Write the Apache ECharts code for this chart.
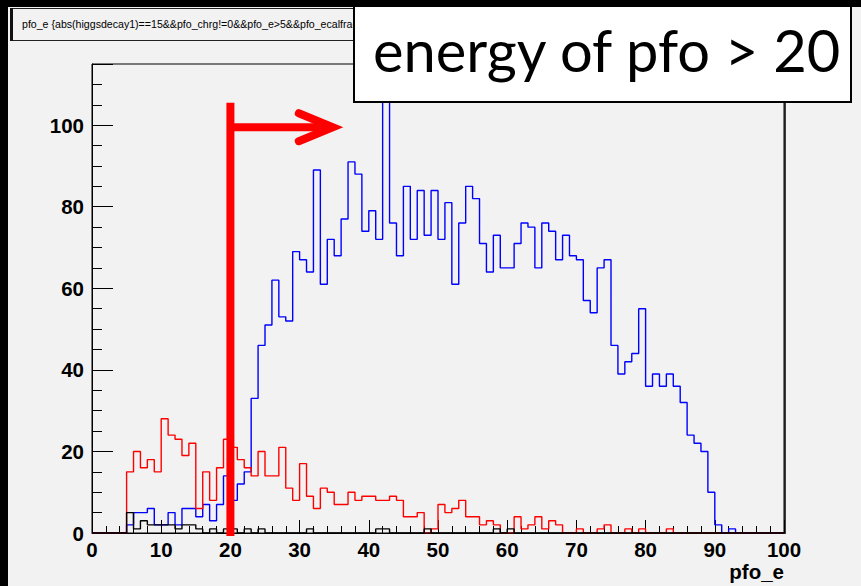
<!DOCTYPE html>
<html>
<head>
<meta charset="utf-8">
<script src="https://cdn.jsdelivr.net/npm/echarts@6/dist/echarts.min.js"></script>
<style>
  html, body { margin: 0; padding: 0; background: #000; }
  #chart { width: 861px; height: 586px; }
</style>
</head>
<body>
<div id="chart"></div>
<script>
// pfo_e histograms: 100 bins of width 1 from 0 to 100 (counts per bin, bin i = [i, i+1))
const binLowEdges = Array.from({ length: 100 }, (_, i) => i);

const blueCounts = [
  0, 0, 0, 0, 0, 2, 5, 5, 6, 2,
  2, 5, 2, 6, 6, 4, 7, 3, 7, 14,
  8, 12, 15, 33, 46, 51, 62, 53, 52, 69,
  67, 64, 89, 61, 72, 68, 77, 91, 88, 74,
  79, 72, 109, 76, 68, 85, 72, 84, 73, 84,
  72, 81, 61, 76, 85, 82, 71, 64, 73, 65,
  65, 71, 76, 75, 65, 76, 74, 67, 73, 68,
  67, 57, 54, 65, 67, 46, 39, 42, 44, 55,
  36, 39, 36, 39, 36, 32, 24, 22, 20, 10,
  2, 0, 1, 0, 0, 0, 0, 0, 0, 0
];

const redCounts = [
  0, 0, 0, 0, 0, 15, 20, 16, 18, 15,
  28, 24, 23, 19, 22, 6, 15, 8, 16, 23,
  21, 18, 16, 14, 20, 14, 14, 21, 11, 8,
  17, 9, 6, 11, 10, 7, 7, 10, 8, 9,
  9, 8, 8, 9, 8, 4, 4, 5, 0, 1,
  7, 5, 6, 8, 4, 4, 2, 3, 2, 0,
  0, 4, 1, 2, 4, 1, 3, 2, 0, 0,
  1, 0, 0, 1, 2, 0, 0, 1, 0, 1,
  0, 0, 0, 1, 0, 0, 0, 0, 0, 0,
  0, 0, 0, 0, 0, 0, 0, 0, 0, 0
];

const blackCounts = [
  0, 0, 0, 0, 0, 5, 1, 3, 2, 2,
  2, 2, 1, 2, 2, 1, 0, 1, 0, 1,
  1, 0, 1, 0, 1, 0, 0, 0, 0, 0,
  0, 1, 0, 0, 0, 0, 0, 0, 0, 0,
  0, 1, 1, 0, 0, 0, 0, 0, 1, 0,
  0, 0, 0, 0, 0, 0, 0, 0, 1, 0,
  1, 0, 0, 0, 0, 0, 0, 0, 0, 0,
  0, 0, 0, 0, 0, 0, 0, 0, 0, 0,
  0, 0, 0, 0, 0, 0, 0, 0, 0, 0,
  0, 0, 0, 0, 0, 0, 0, 0, 0, 0
];

const xTickLabels = [0, 10, 20, 30, 40, 50, 60, 70, 80, 90, 100];
const yTickLabels = [0, 20, 40, 60, 80, 100];

const xRange = [0, 100];
const yRange = [0, 115];

// selection cut drawn on the plot
const cutEnergy = 20;
const cutTopY = 105.5;
const arrowY = 99.5;
const arrowTipX = 34.8;

const titleText = 'pfo_e {abs(higgsdecay1)==15&&pfo_chrg!=0&&pfo_e>5&&pfo_ecalfrac<0.5}';
const noteText = 'energy of pfo > 20';
const xAxisTitle = 'pfo_e';

// outline of a histogram: one point per low edge plus the final upper edge
function histOutline(counts) {
  const pts = binLowEdges.map((x, i) => [x, counts[i]]);
  pts.push([xRange[1], counts[counts.length - 1]]);
  return pts;
}

const labelFont = {
  color: '#000',
  fontFamily: 'Liberation Sans',
  fontWeight: 'bold',
  fontSize: 20.5
};

const chart = echarts.init(document.getElementById('chart'), null, { renderer: 'svg' });

const histSeries = (name, counts, color) => ({
  name,
  type: 'line',
  step: 'end',
  data: histOutline(counts),
  showSymbol: false,
  symbol: 'none',
  lineStyle: { color, width: 1.4 },
  itemStyle: { color },
  clip: true,
  animation: false
});

chart.setOption({
  backgroundColor: '#f2f2f2',
  animation: false,
  grid: { left: 92, right: 77, top: 64, bottom: 53, containLabel: false },
  xAxis: [
    {
      type: 'value', min: xRange[0], max: xRange[1], interval: 10, position: 'bottom',
      axisLine: { show: true, lineStyle: { color: '#000', width: 1 } },
      axisTick: { show: true, inside: true, length: 13, lineStyle: { color: '#000', width: 1 } },
      minorTick: { show: true, splitNumber: 5, length: 7, lineStyle: { color: '#000', width: 1 } },
      axisLabel: Object.assign({ margin: 6, formatter: v => xTickLabels.includes(v) ? String(v) : '' }, labelFont),
      splitLine: { show: false }
    }
  ],
  yAxis: [
    {
      type: 'value', min: yRange[0], max: yRange[1], interval: 20, position: 'left',
      axisLine: { show: true, lineStyle: { color: '#000', width: 1 } },
      axisTick: { show: true, inside: true, length: 21, lineStyle: { color: '#000', width: 1 } },
      axisLabel: Object.assign({ margin: 8, formatter: v => yTickLabels.includes(v) ? String(v) : '' }, labelFont),
      splitLine: { show: false }
    },
    {
      type: 'value', min: yRange[0], max: yRange[1], interval: 5, position: 'left',
      axisLine: { show: false },
      axisTick: { show: true, inside: true, length: 10, lineStyle: { color: '#000', width: 1 } },
      axisLabel: { show: false },
      splitLine: { show: false }
    }
  ],
  series: [
    histSeries('tau', blueCounts, '#0000ff'),
    histSeries('other', redCounts, '#ff0000'),
    histSeries('rest', blackCounts, '#000000')
  ]
});

function px(x, y) {
  return chart.convertToPixel({ xAxisIndex: 0, yAxisIndex: 0 }, [x, y]);
}

const frameTL = px(xRange[0], yRange[1]);
const frameBR = px(xRange[1], yRange[0]);
const cutTop = px(cutEnergy, cutTopY);
const cutBottom = px(cutEnergy, yRange[0]);
const arrowStart = px(cutEnergy, arrowY);
const arrowTip = px(arrowTipX, arrowY);

chart.setOption({
  graphic: [
    // frame around the plot
    {
      type: 'rect', z: 50, silent: true,
      shape: { x: frameTL[0], y: frameTL[1], width: frameBR[0] - frameTL[0], height: frameBR[1] - frameTL[1] },
      style: { fill: 'none', stroke: '#000', lineWidth: 1 }
    },
    {
      type: 'line', z: 50, silent: true,
      shape: { x1: frameBR[0] + 1, y1: frameTL[1], x2: frameBR[0] + 1, y2: frameBR[1] + 1 },
      style: { stroke: '#000', lineWidth: 1.5 }
    },
    // cut line and arrow
    {
      type: 'line', z: 60, silent: true,
      shape: { x1: cutTop[0], y1: cutTop[1], x2: cutBottom[0], y2: cutBottom[1] + 3 },
      style: { stroke: '#ff0000', lineWidth: 8 }
    },
    {
      type: 'line', z: 60, silent: true,
      shape: { x1: arrowStart[0], y1: arrowStart[1], x2: arrowTip[0] - 4, y2: arrowTip[1] },
      style: { stroke: '#ff0000', lineWidth: 8 }
    },
    {
      type: 'polyline', z: 60, silent: true,
      shape: { points: [[arrowTip[0] - 34, arrowTip[1] - 14], [arrowTip[0], arrowTip[1]], [arrowTip[0] - 34, arrowTip[1] + 14]] },
      style: { fill: 'none', stroke: '#ff0000', lineWidth: 8, lineCap: 'round', lineJoin: 'miter' }
    },
    // x axis title
    {
      type: 'text', z: 60, silent: true,
      style: {
        text: xAxisTitle, x: frameBR[0], y: 571, align: 'right', verticalAlign: 'middle',
        fill: '#000', font: 'bold 20.5px "Liberation Sans"'
      }
    },
    // black border strips
    { type: 'rect', z: 70, silent: true, shape: { x: 0, y: 0, width: 861, height: 7 }, style: { fill: '#000' } },
    { type: 'rect', z: 70, silent: true, shape: { x: 0, y: 0, width: 8, height: 586 }, style: { fill: '#000' } },
    // histogram title box
    {
      type: 'rect', z: 80, silent: true,
      shape: { x: 11.5, y: 8.5, width: 520, height: 32 },
      style: { fill: '#f2f2f2', stroke: '#222', lineWidth: 1 }
    },
    {
      type: 'line', z: 81, silent: true,
      shape: { x1: 11.5, y1: 8, x2: 11.5, y2: 41 },
      style: { stroke: '#111', lineWidth: 3 }
    },
    {
      type: 'text', z: 81, silent: true,
      style: {
        text: titleText, x: 22, y: 24, verticalAlign: 'middle',
        fill: '#000', font: '10.6px "Liberation Sans"'
      }
    },
    // note box
    {
      type: 'rect', z: 90, silent: true,
      shape: { x: 354, y: 6, width: 497, height: 96 },
      style: { fill: '#ffffff', stroke: '#000', lineWidth: 2 }
    },
    {
      type: 'text', z: 91, silent: true,
      style: {
        text: noteText, x: 373, y: 49, verticalAlign: 'middle',
        fill: '#000', font: '57.8px Lato'
      }
    }
  ]
});
</script>
</body>
</html>
